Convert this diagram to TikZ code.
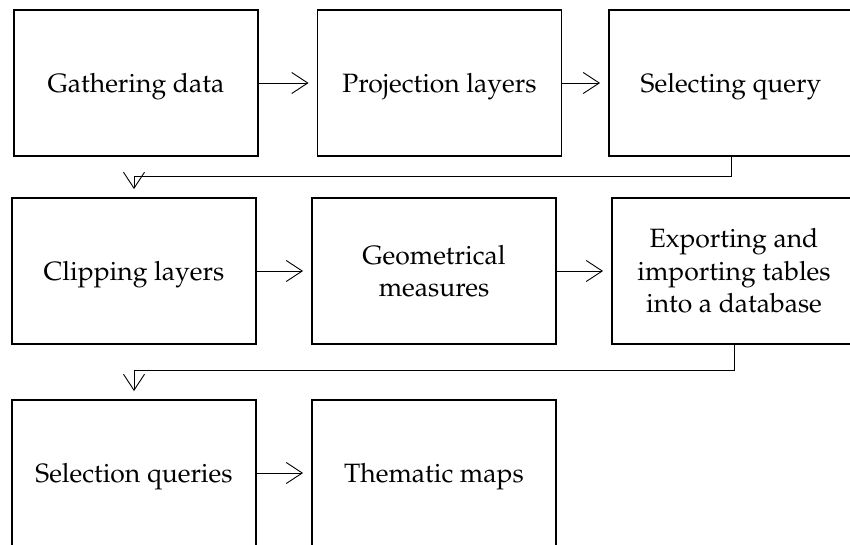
\documentclass[tikz,border=0pt]{standalone}
\usepackage[T1]{fontenc}
\usepackage{mathpazo}
\usetikzlibrary{arrows.meta,calc}
\newcommand\hstr{\rule{0pt}{26pt}}
\tikzset{
  stepbox/.style={draw=black, line width=1.9pt, minimum width=244pt, minimum height=146pt,
    inner sep=0pt, align=center, font=\fontsize{26.5}{32.5}\selectfont},
  conn/.style={draw=black, line width=0.9pt, shorten >=8pt,
    -{Straight Barb[length=16pt,width=21pt,line width=0.9pt]}}
}
\begin{document}
\begin{tikzpicture}[x=1pt,y=-1pt]
\useasboundingbox (0,0) rectangle (850,544);
\node[stepbox] (b1) at (136,83) {\hstr Gathering data};
\node[stepbox] (b2) at (439.5,83) {\hstr Projection layers};
\node[stepbox] (b3) at (731,83) {\hstr Selecting query};
\node[stepbox] (b4) at (134,271) {\hstr Clipping layers};
\node[stepbox] (b5) at (434,271) {Geometrical\\measures};
\node[stepbox] (b6) at (734,271) {Exporting and\\importing tables\\into a database};
\node[stepbox] (b7) at (134,473) {\hstr Selection queries};
\node[stepbox] (b8) at (434,473) {\hstr Thematic maps};
\draw[conn] (b1) -- (b2);
\draw[conn] (b2) -- (b3);
\draw[conn] (b4) -- (b5);
\draw[conn] (b5) -- (b6);
\draw[conn] (b7) -- (b8);
\draw[conn] (b3.south) |- ($(b4.north)+(0,-21)$) -- (b4.north);
\draw[conn] (b6.south) |- ($(b7.north)+(0,-29)$) -- (b7.north);
\end{tikzpicture}
\end{document}
